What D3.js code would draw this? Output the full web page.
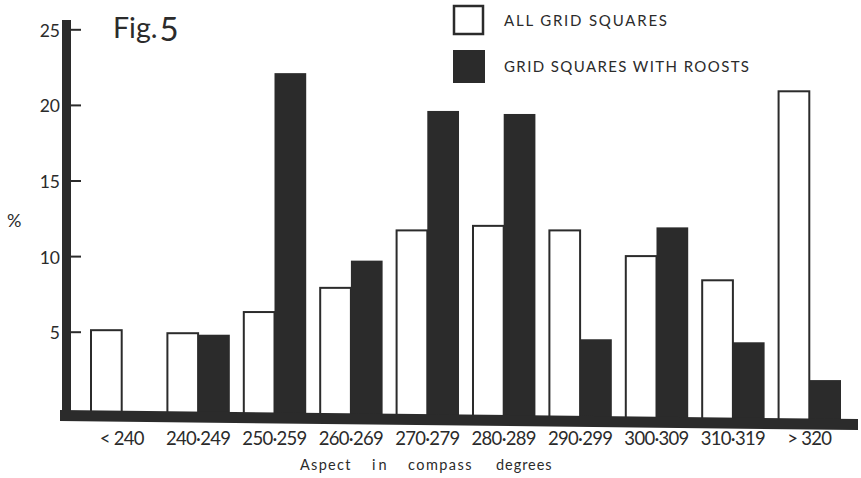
<!DOCTYPE html>
<html><head><meta charset="utf-8">
<script src="https://cdn.jsdelivr.net/npm/d3@7"></script>
<style>
body{margin:0;background:#fff}
svg{display:block}
text{font-family:Lato,"Noto Sans",sans-serif;fill:#2b2b2b}
</style>
</head><body>
<svg id="chart" width="861" height="478"></svg>
<script>
// ---- data ----
const categories = ["< 240","240·249","250·259","260·269","270·279","280·289","290·299","300·309","310·319","> 320"];
const allSquares  = [5.1, 4.9, 6.3, 7.9, 11.7, 12.0, 11.7, 10.0, 8.4, 20.9];
const withRoosts  = [0,   4.8, 22.1, 9.7, 19.6, 19.4, 4.5, 11.9, 4.3, 1.8];
const seriesKeys  = ["all","roosts"];
const seriesNames = ["ALL GRID SQUARES","GRID SQUARES WITH ROOSTS"];
const yTicks      = [5,10,15,20,25];
const xTitleWords = ["Aspect","in","compass","degrees"];

const ink = "#2b2b2b";
const svg = d3.select("#chart");

const x = d3.scaleBand().domain(categories).range([90, 841]).paddingInner(0.17).paddingOuter(0);
const xs = d3.scaleBand().domain(seriesKeys).range([0, x.bandwidth()]).padding(0);
const y = d3.scaleLinear().domain([0, 25]).range([407.3, 29.3]);

const rows = categories.map((c,i)=>({cat:c, all:allSquares[i], roosts:withRoosts[i]}));

// clip so bars end inside the thick baseline band
svg.append("clipPath").attr("id","above").append("path")
  .attr("d","M0,0 L861,0 L861,424 L0,415 Z");

// bars
const g = svg.append("g").attr("clip-path","url(#above)");
const groups = g.selectAll("g.grp").data(rows).join("g").attr("class","grp")
  .attr("transform", d=>`translate(${x(d.cat)},0)`);
groups.selectAll("rect").data(d=>seriesKeys.map(k=>({k, v:d[k]})).filter(e=>e.v>0)).join("rect")
  .attr("x", e=>xs(e.k) + (e.k==="all"?1:0))
  .attr("width", e=>xs.bandwidth() - (e.k==="all"?1:0))
  .attr("y", e=>y(e.v))
  .attr("height", e=>y(0) - y(e.v) + 16)
  .attr("fill", e=>e.k==="all" ? "#fff" : ink)
  .attr("stroke", e=>e.k==="all" ? ink : "none")
  .attr("stroke-width", 2);

// baseline (slightly tilted thick band as drawn)
svg.append("path")
  .attr("d", "M60,410 L858,419 L858,430 L60,421 Z")
  .attr("fill", ink);

// y axis thick bar
svg.append("rect").attr("x",62).attr("y",20).attr("width",9).attr("height",401).attr("fill",ink);

const yAxis = d3.axisLeft(y).tickValues(yTicks).tickSizeInner(-10).tickSizeOuter(0).tickPadding(11);
const ya = svg.append("g").attr("transform","translate(71,0)").call(yAxis);
ya.select(".domain").remove();
ya.selectAll(".tick line").attr("stroke",ink).attr("stroke-width",2);
ya.selectAll(".tick text").attr("font-size",17.5).attr("fill",ink)
  .attr("font-family","Lato, 'Noto Sans', sans-serif").attr("dy","0.4em");

// x labels
const xAxis = d3.axisBottom(x).tickSize(0).tickPadding(0);
const xa = svg.append("g").attr("transform","translate(0,445)").call(xAxis);
xa.select(".domain").remove();
xa.selectAll(".tick text").attr("font-size",18.5).attr("fill",ink).attr("dy",0)
  .attr("letter-spacing","-0.7")
  .attr("font-family","Lato, 'Noto Sans', sans-serif");

// x title
const wordX = [300, 372, 408, 496];
const wordW = [52, 16, 65, 57];
svg.append("g").selectAll("text").data(xTitleWords).join("text")
  .attr("x",(d,i)=>wordX[i]).attr("y",470)
  .attr("font-size",14.5).attr("letter-spacing","1.5")
  .attr("textLength",(d,i)=>wordW[i]).attr("lengthAdjust","spacing")
  .text(d=>d);

// % label
svg.append("text").attr("x",7).attr("y",227).attr("font-size",18).text("%");

// Fig.5
const fig = svg.append("text").attr("x",113).attr("y",38).attr("font-size",28.5);
fig.append("tspan").text("Fig.");
fig.append("tspan").attr("font-size",33).attr("dx",2).attr("dy",3).text("5");

// legend
const leg = svg.append("g");
leg.append("rect").attr("x",454).attr("y",6).attr("width",29).attr("height",28)
  .attr("fill","#fff").attr("stroke",ink).attr("stroke-width",2.5);
leg.append("rect").attr("x",453).attr("y",50).attr("width",32).attr("height",33).attr("fill",ink);
leg.selectAll("text.lg").data(seriesNames).join("text").attr("class","lg")
  .attr("x",504).attr("y",(d,i)=>i===0?26:72)
  .attr("font-size",15)
  .attr("textLength",(d,i)=>i===0?163:245).attr("lengthAdjust","spacing")
  .text(d=>d);
</script>
</body></html>
